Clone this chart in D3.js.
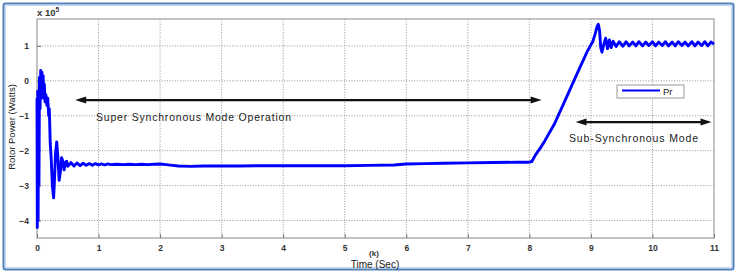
<!DOCTYPE html>
<html><head><meta charset="utf-8">
<script src="https://cdn.jsdelivr.net/npm/d3@7"></script>
<style>html,body{margin:0;padding:0;background:#fff;}svg{display:block;}</style>
</head><body>
<script>
// ---- data ----
const xTicks = [0,1,2,3,4,5,6,7,8,9,10,11];
const yTicks = [-4,-3,-2,-1,0,1];
const seriesName = "Pr";
const timeSec = [
 0.000,0.005,0.012,0.018,0.025,0.032,0.040,0.050,0.060,0.070,0.080,0.090,0.100,0.110,0.120,0.130,0.145,0.160,0.175,0.190,0.200,0.215,0.230,0.250,0.270,0.285,0.300,0.320,0.340,0.360,0.380,0.400,0.420,0.440,0.460,0.480,0.500,
 0.55,0.60,0.65,0.70,0.75,0.80,0.85,0.90,0.95,1.00,1.05,1.10,1.15,1.20,1.30,1.40,1.50,1.60,1.70,1.80,1.90,2.00,2.10,2.20,2.30,2.50,2.70,3.00,3.30,3.60,4.00,4.30,4.60,5.00,5.40,5.80,6.00,6.30,6.60,7.00,7.40,7.80,8.00,
 8.04,8.10,8.18,8.25,8.40,8.55,8.67,8.80,8.94,9.00,9.03,9.07,9.10,9.12,9.14,9.16,9.18,9.21,9.24,9.27,9.30,9.33,9.36,
 9.41,9.46,9.52,9.57,9.62,9.68,9.73,9.78,9.84,9.89,9.94,10.00,10.05,10.10,10.16,10.21,10.26,10.32,10.37,10.42,10.48,10.53,10.58,10.64,10.69,10.74,10.80,10.85,10.90,10.95,11.00
];
const rotorPower = [ // x 10^5 W
 -0.5,-4.2,-0.3,-4.0,-0.6,-3.0,0.1,-0.8,0.3,-0.5,0.25,-0.3,0.15,-0.5,-0.1,-0.6,-0.4,-0.7,-0.5,-1.0,-0.8,-1.8,-2.2,-3.0,-3.35,-2.8,-2.1,-1.75,-2.2,-2.85,-2.6,-2.2,-2.3,-2.55,-2.35,-2.3,-2.45,
 -2.34,-2.44,-2.35,-2.43,-2.36,-2.42,-2.37,-2.42,-2.37,-2.41,-2.38,-2.41,-2.38,-2.40,-2.39,-2.40,-2.39,-2.40,-2.39,-2.40,-2.39,-2.38,-2.40,-2.42,-2.44,-2.45,-2.44,-2.44,-2.44,-2.43,-2.43,-2.43,-2.43,-2.43,-2.42,-2.41,-2.38,-2.37,-2.36,-2.35,-2.34,-2.33,-2.33,
 -2.31,-2.12,-1.92,-1.72,-1.26,-0.68,-0.21,0.30,0.84,1.03,1.12,1.35,1.55,1.62,1.45,0.95,0.82,1.05,1.22,0.92,1.17,0.95,1.13,
 0.98,1.12,0.99,1.12,1.00,1.11,1.00,1.12,1.00,1.11,1.01,1.12,1.00,1.11,1.01,1.12,1.00,1.11,1.00,1.12,1.01,1.11,1.00,1.12,1.00,1.11,1.01,1.12,1.00,1.11,1.05
];
const yDomain = [-4.5, 1.77];
const xDomain = [0, 11];
const annoSuper = {label:"Super Synchronous Mode Operation", t0:0.62, t1:8.2, v:-0.55};
const annoSub = {label:"Sub-Synchronous Mode", t0:8.75, t1:10.96, v:-1.18};

// ---- drawing ----
const W = 737, H = 274;
const svg = d3.select("body").append("svg").attr("width",W).attr("height",H);
const font = "'Liberation Sans', Arial, sans-serif";

// outer frame
svg.append("rect").attr("x",3.5).attr("y",3.5).attr("width",730).attr("height",266)
  .attr("fill","none").attr("stroke","#4f81bd").attr("stroke-width",2).attr("rx",2);
svg.append("rect").attr("x",5.5).attr("y",5.5).attr("width",726).attr("height",262)
  .attr("fill","none").attr("stroke","#c6d9f0").attr("stroke-width",1.2);

const L = 37, R = 714, T = 19, B = 238;
const x = d3.scaleLinear().domain(xDomain).range([L,R]);
const y = d3.scaleLinear().domain(yDomain).range([B,T]);

// grid
const g = svg.append("g");
g.selectAll(".vg").data(xTicks.slice(1,-1)).join("line")
  .attr("x1",d=>x(d)).attr("x2",d=>x(d)).attr("y1",T).attr("y2",B)
  .attr("stroke","#8a8a8a").attr("stroke-width",0.9).attr("stroke-dasharray","1,1.6");
g.selectAll(".hg").data(yTicks).join("line")
  .attr("x1",L).attr("x2",R).attr("y1",d=>y(d)).attr("y2",d=>y(d))
  .attr("stroke","#8a8a8a").attr("stroke-width",0.9).attr("stroke-dasharray","1,1.6");

// box
svg.append("rect").attr("x",L).attr("y",T).attr("width",R-L).attr("height",B-T)
  .attr("fill","none").attr("stroke","#9a9a9a").attr("stroke-width",1.2);

// axes
const xAxis = d3.axisBottom(x).tickValues(xTicks).tickFormat(d3.format("d")).tickSize(-4).tickPadding(7);
const xa = svg.append("g").attr("transform",`translate(0,${B})`).call(xAxis);
const yAxis = d3.axisLeft(y).tickValues(yTicks).tickFormat(d3.format("d")).tickSize(-4).tickPadding(8);
const ya = svg.append("g").attr("transform",`translate(${L},0)`).call(yAxis);
[xa,ya].forEach(a=>{
  a.select(".domain").remove();
  a.selectAll(".tick line").attr("stroke","#777");
  a.selectAll("text").attr("font-family",font).attr("font-size",8.5).attr("font-weight","bold").attr("fill","#333");
});

// exponent
const ex = svg.append("text").attr("x",37).attr("y",16).attr("font-family",font).attr("font-size",9.5).attr("font-weight","bold").attr("fill","#333");
ex.append("tspan").text("x 10");
ex.append("tspan").attr("dy",-4).attr("font-size",6.5).text("5");

// axis labels
svg.append("text").attr("transform","translate(15,127) rotate(-90)").attr("text-anchor","middle")
  .attr("font-family",font).attr("font-size",9.5).attr("fill","#222").text("Rotor Power (Watts)");
svg.append("text").attr("x",374).attr("y",256).attr("text-anchor","middle")
  .attr("font-family",font).attr("font-size",8).attr("font-weight","bold").attr("fill","#333").text("(k)");
svg.append("text").attr("x",375).attr("y",267.5).attr("text-anchor","middle")
  .attr("font-family",font).attr("font-size",10).attr("fill","#222").text("Time (Sec)");

// series
const data = timeSec.map((t,i)=>({t, v: rotorPower[i]}));
const line = d3.line().x(d=>x(d.t)).y(d=>y(d.v));
svg.append("path").datum(data).attr("d",line).attr("fill","none")
  .attr("stroke","#0000ff").attr("stroke-width",2.9).attr("stroke-linejoin","round");

// arrows
function dblArrow(a){
  const x0 = x(a.t0), x1 = x(a.t1), yy = y(a.v);
  svg.append("line").attr("x1",x0+6).attr("x2",x1-6).attr("y1",yy).attr("y2",yy)
    .attr("stroke","#111").attr("stroke-width",2.2);
  svg.append("path").attr("d",`M${x0},${yy} L${x0+11},${yy-3.5} L${x0+11},${yy+3.5} Z`).attr("fill","#111");
  svg.append("path").attr("d",`M${x1},${yy} L${x1-11},${yy-3.5} L${x1-11},${yy+3.5} Z`).attr("fill","#111");
}
dblArrow(annoSuper); dblArrow(annoSub);
svg.append("text").attr("x",96).attr("y",121).attr("font-family",font).attr("font-size",10.5)
  .attr("textLength",195).attr("fill","#222").text(annoSuper.label);
svg.append("text").attr("x",569).attr("y",142).attr("font-family",font).attr("font-size",10.5)
  .attr("textLength",129).attr("fill","#222").text(annoSub.label);

// legend
const lg = svg.append("g");
lg.append("rect").attr("x",617).attr("y",85).attr("width",67).attr("height",13)
  .attr("fill","#fff").attr("stroke","#999").attr("stroke-width",1);
lg.append("line").attr("x1",622).attr("x2",660).attr("y1",90.5).attr("y2",90.5)
  .attr("stroke","#0000ff").attr("stroke-width",2.2);
lg.append("text").attr("x",663).attr("y",94.5).attr("font-family",font).attr("font-size",9.5)
  .attr("fill","#222").text(seriesName);
</script>
</body></html>
